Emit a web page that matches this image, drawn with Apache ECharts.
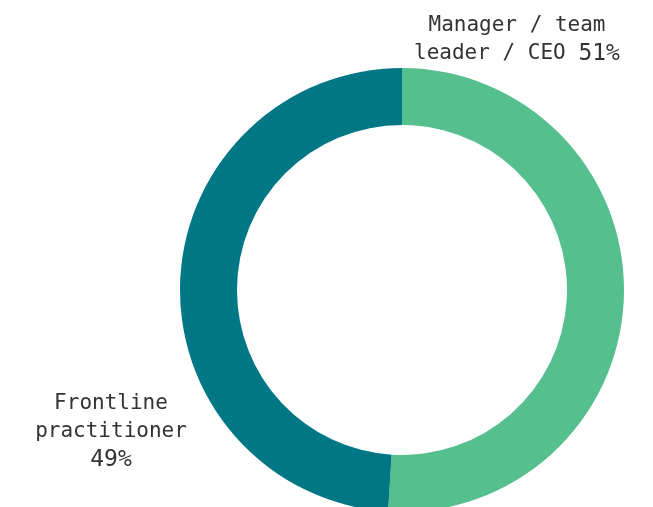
<!DOCTYPE html>
<html>
<head>
<meta charset="utf-8">
<script src="https://cdn.jsdelivr.net/npm/echarts@6/dist/echarts.min.js"></script>
<style>
  html, body { margin: 0; padding: 0; background: #fff; }
  #main { width: 653px; height: 507px; }
</style>
</head>
<body>
<div id="main"></div>
<script>
const names = ['Manager / team\nleader / CEO', 'Frontline\npractitioner']
const values = [51, 49]
const colors = ['#56bf8e', '#007785']
// where each label block sits (center)
const labelPos = [[517, 40], [111, 432]]
const labelSep = [' ', '\n']

const myChart = echarts.init(document.getElementById('main'))
const option = {
    animation: false,
    series: [{
        type: 'pie',
        center: [402, 290],
        radius: [165, 222],
        startAngle: 90,
        clockwise: true,
        avoidLabelOverlap: false,
        data: names.map((n, i) => ({ name: n, value: values[i], itemStyle: { color: colors[i] } })),
        label: {
            show: true,
            position: 'inside',
            overflow: 'none',
            fontFamily: 'DejaVu Sans Mono',
            color: '#333',
            align: 'center',
            formatter: p => '{n|' + p.name + labelSep[p.dataIndex] + '}{v|' + p.value + '%}',
            rich: {
                n: { fontSize: 21, lineHeight: 28, fontFamily: 'DejaVu Sans Mono', color: '#333', align: 'center' },
                v: { fontSize: 23, lineHeight: 28, fontFamily: 'DejaVu Sans Mono', color: '#333', align: 'center' }
            }
        },
        labelLine: { show: false },
        labelLayout: params => ({
            x: labelPos[params.dataIndex][0],
            y: labelPos[params.dataIndex][1],
            align: 'center',
            verticalAlign: 'middle',
            hideOverlap: false
        }),
        emphasis: { disabled: true }
    }]
}
myChart.setOption(option)
</script>
</body>
</html>
